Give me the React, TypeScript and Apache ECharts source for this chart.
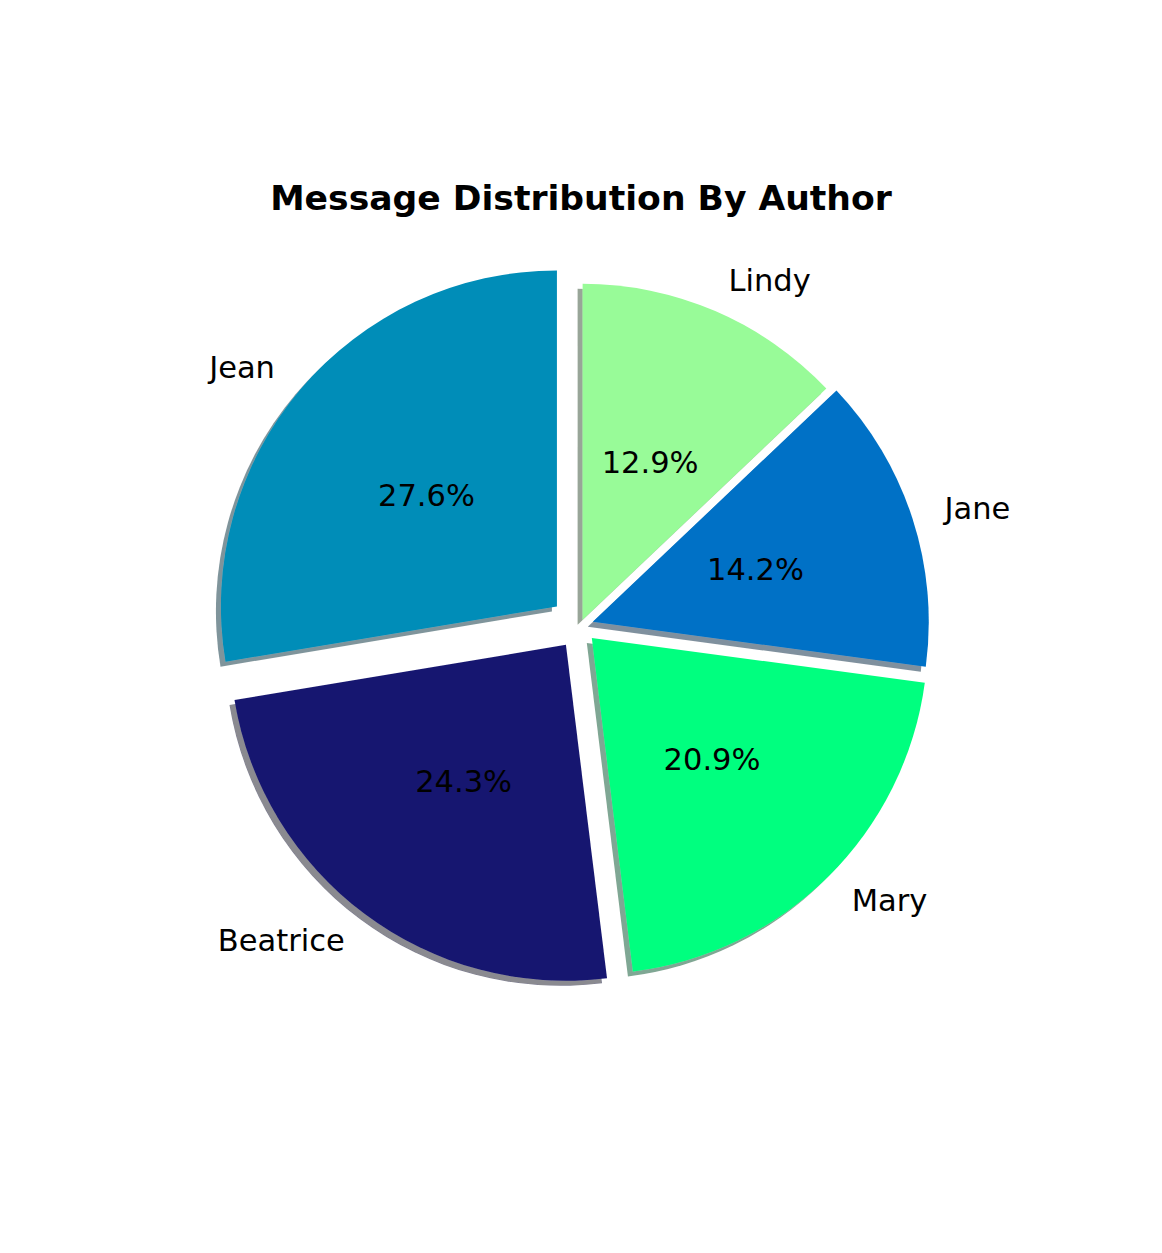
import React, { useEffect, useRef } from "react";
import * as echarts from "echarts";

const TITLE = "Message Distribution By Author";
const authors = ["Jean", "Beatrice", "Mary", "Jane", "Lindy"];
const shares = [27.6, 24.3, 20.9, 14.2, 12.9];
const colors = ["#008DB8", "#191970", "#00FF7F", "#0071C6", "#98FB98"];
const explode = [0.09, 0.07, 0.05, 0.04, 0.02];

const R = 336;
const CENTER = [580, 626];
const FONT = "DejaVu Sans";

function hexToRgb(h: string) {
  const n = parseInt(h.slice(1), 16);
  return [(n >> 16) & 255, (n >> 8) & 255, n & 255];
}

function shadowOf(h: string) {
  const [r, g, b] = hexToRgb(h);
  return `rgba(${Math.round(r * 0.3)},${Math.round(g * 0.3)},${Math.round(b * 0.3)},0.5)`;
}

export default function App() {
  const ref = useRef<HTMLDivElement>(null);
  useEffect(() => {
    if (!ref.current) return;
    const chart = echarts.init(ref.current, undefined, { renderer: "svg" });
    const series: any[] = [];
    authors.forEach((_, i) => {
      const base = {
        type: "pie",
        radius: [0, R],
        center: CENTER,
        startAngle: 90,
        clockwise: false,
        selectedMode: "single",
        selectedOffset: explode[i] * R,
        silent: true,
        avoidLabelOverlap: false,
        emphasis: { disabled: true },
        labelLine: { show: false, length: 0.1 * R, length2: 0 },
      };
      series.push({
        ...base,
        z: 2,
        label: {
          show: true,
          position: "outside",
          formatter: "{b}",
          fontSize: 30.5,
          fontFamily: FONT,
          color: "#000",
          distanceToLabelLine: 0,
        },
        data: authors.map((n, j) => ({
          name: n,
          value: shares[j],
          selected: j === i,
          itemStyle:
            j === i
              ? {
                  color: colors[j],
                  shadowColor: shadowOf(colors[j]),
                  shadowBlur: 0,
                  shadowOffsetX: -5,
                  shadowOffsetY: 5,
                }
              : { color: "transparent" },
          label: { show: j === i },
        })),
      });
      series.push({
        ...base,
        z: 3,
        label: {
          show: true,
          position: "inside",
          formatter: (p: any) => `${Number(p.value).toFixed(1)}%`,
          fontSize: 30.5,
          fontFamily: FONT,
          color: "#000",
        },
        data: authors.map((n, j) => ({
          name: n,
          value: shares[j],
          selected: j === i,
          itemStyle: { color: "transparent" },
          label: { show: j === i },
        })),
      });
    });
    chart.setOption({
      animation: false,
      backgroundColor: "#fff",
      title: {
        text: TITLE,
        left: "center",
        top: 175,
        textStyle: {
          fontSize: 34.6,
          fontWeight: "bold",
          fontFamily: FONT,
          color: "#000",
        },
      },
      series,
    });
    return () => chart.dispose();
  }, []);
  return (
    <div
      ref={ref}
      style={{ position: "absolute", left: 0, top: 0, width: 1162, height: 1253 }}
    />
  );
}
